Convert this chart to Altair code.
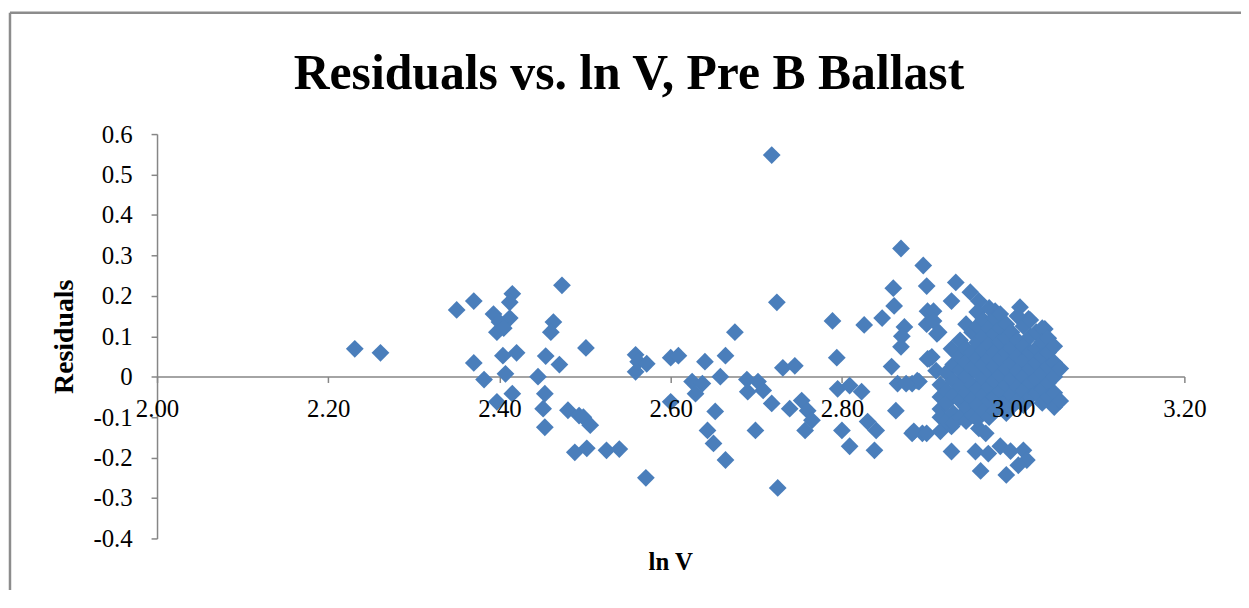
import altair as alt
import pandas as pd

# ---- data (ln V, residual) ----
pts_left = [
    (2.231, 0.069), (2.261, 0.059), (2.350, 0.165), (2.370, 0.187), (2.393, 0.155),
    (2.415, 0.205), (2.412, 0.184), (2.412, 0.145), (2.400, 0.135), (2.397, 0.110),
    (2.405, 0.120), (2.473, 0.226), (2.463, 0.135), (2.460, 0.110), (2.370, 0.034),
    (2.404, 0.052), (2.420, 0.059), (2.454, 0.051), (2.470, 0.030), (2.501, 0.071),
    (2.382, -0.007), (2.407, 0.007), (2.445, 0.000), (2.397, -0.062), (2.415, -0.042),
    (2.453, -0.042), (2.451, -0.079), (2.453, -0.125), (2.480, -0.083), (2.493, -0.096),
    (2.498, -0.100), (2.506, -0.120), (2.488, -0.187), (2.502, -0.177), (2.525, -0.182),
    (2.540, -0.179), (2.559, 0.054), (2.559, 0.012), (2.571, -0.250),
]

pts_middle = [
    (2.718, 0.548), (2.724, 0.184), (2.675, 0.110), (2.789, 0.138), (2.826, 0.128),
    (2.847, 0.145), (2.860, 0.219), (2.861, 0.175), (2.869, 0.317), (2.895, 0.275),
    (2.899, 0.224), (2.873, 0.123), (2.870, 0.100), (2.869, 0.074), (2.900, 0.162),
    (2.899, 0.130), (2.794, 0.047), (2.858, 0.025), (2.865, -0.017), (2.882, -0.017),
    (2.890, -0.012), (2.900, 0.044), (2.562, 0.037), (2.572, 0.032), (2.600, 0.047),
    (2.609, 0.052), (2.640, 0.037), (2.664, 0.052), (2.731, 0.022), (2.745, 0.027),
    (2.625, -0.012), (2.637, -0.017), (2.658, 0.000), (2.689, -0.007), (2.702, -0.012),
    (2.708, -0.034), (2.690, -0.037), (2.629, -0.042), (2.600, -0.062), (2.718, -0.066),
    (2.739, -0.079), (2.753, -0.059), (2.760, -0.084), (2.765, -0.108), (2.757, -0.133),
    (2.652, -0.086), (2.643, -0.133), (2.650, -0.165), (2.664, -0.206), (2.699, -0.133),
    (2.725, -0.275), (2.795, -0.030), (2.809, -0.022), (2.823, -0.037), (2.800, -0.133),
    (2.809, -0.172), (2.830, -0.111), (2.840, -0.133), (2.838, -0.182), (2.863, -0.084),
    (2.882, -0.140), (2.894, -0.140),
]

pts_right_edge = [
    (2.911, 0.106), (2.905, 0.049), (2.910, 0.015), (2.888, -0.010), (2.928, 0.069),
    (2.907, 0.162), (2.907, 0.138), (2.913, 0.110), (2.933, 0.233), (2.928, 0.187),
    (2.950, 0.209), (2.960, 0.187), (2.979, 0.162), (3.008, 0.172), (3.018, 0.143),
    (3.037, 0.118), (3.031, 0.110), (2.974, 0.138), (2.985, 0.118), (2.902, 0.044),
    (2.875, -0.017), (2.884, -0.135), (2.899, -0.140), (2.915, -0.135), (2.928, -0.123),
    (2.960, -0.128), (2.968, -0.140), (3.052, -0.059), (3.040, -0.037),
    (2.928, -0.185), (2.956, -0.185), (2.971, -0.190), (2.985, -0.172), (2.997, -0.184),
    (3.012, -0.182), (3.016, -0.206), (3.006, -0.219), (2.992, -0.243), (2.962, -0.233),
]

pts_cluster = [
    (2.915, -0.020), (2.915, -0.050), (2.915, -0.080), (2.915, -0.100),
    (2.922, 0.010), (2.922, -0.035), (2.922, -0.065), (2.922, -0.110),
    (2.930, 0.030), (2.930, -0.010), (2.930, -0.045), (2.930, -0.090), (2.930, -0.115),
    (2.938, 0.090), (2.938, 0.050), (2.938, 0.015), (2.938, -0.025), (2.938, -0.060), (2.938, -0.100),
    (2.945, 0.130), (2.945, 0.070), (2.945, 0.035), (2.945, 0.000), (2.945, -0.040), (2.945, -0.075), (2.945, -0.110),
    (2.952, 0.110), (2.952, 0.060), (2.952, 0.020), (2.952, -0.020), (2.952, -0.055), (2.952, -0.095),
    (2.958, 0.160), (2.958, 0.125), (2.958, 0.085), (2.958, 0.045), (2.958, 0.010), (2.958, -0.030), (2.958, -0.070), (2.958, -0.105),
    (2.965, 0.140), (2.965, 0.100), (2.965, 0.065), (2.965, 0.030), (2.965, -0.005), (2.965, -0.045), (2.965, -0.085),
    (2.972, 0.170), (2.972, 0.120), (2.972, 0.080), (2.972, 0.045), (2.972, 0.015), (2.972, -0.025), (2.972, -0.060), (2.972, -0.100),
    (2.978, 0.145), (2.978, 0.105), (2.978, 0.060), (2.978, 0.025), (2.978, -0.010), (2.978, -0.050), (2.978, -0.085),
    (2.985, 0.155), (2.985, 0.120), (2.985, 0.085), (2.985, 0.045), (2.985, 0.005), (2.985, -0.035), (2.985, -0.070),
    (2.992, 0.130), (2.992, 0.095), (2.992, 0.060), (2.992, 0.020), (2.992, -0.020), (2.992, -0.060), (2.992, -0.090),
    (2.998, 0.110), (2.998, 0.070), (2.998, 0.035), (2.998, -0.005), (2.998, -0.045), (2.998, -0.075),
    (3.005, 0.150), (3.005, 0.090), (3.005, 0.050), (3.005, 0.015), (3.005, -0.025), (3.005, -0.060),
    (3.012, 0.125), (3.012, 0.075), (3.012, 0.040), (3.012, 0.000), (3.012, -0.035), (3.012, -0.070),
    (3.020, 0.140), (3.020, 0.100), (3.020, 0.060), (3.020, 0.020), (3.020, -0.015), (3.020, -0.050),
    (3.027, 0.110), (3.027, 0.070), (3.027, 0.035), (3.027, -0.005), (3.027, -0.040),
    (3.034, 0.120), (3.034, 0.085), (3.034, 0.050), (3.034, 0.010), (3.034, -0.030), (3.034, -0.065),
    (3.041, 0.095), (3.041, 0.060), (3.041, 0.025), (3.041, -0.015), (3.041, -0.050),
    (3.048, 0.075), (3.048, 0.035), (3.048, 0.000), (3.048, -0.040), (3.048, -0.075),
    (3.055, 0.020), (3.055, -0.060),
]

x_ticks = [2.0, 2.2, 2.4, 2.6, 2.8, 3.0, 3.2]
y_ticks = [-0.4, -0.3, -0.2, -0.1, 0.0, 0.1, 0.2, 0.3, 0.4, 0.5, 0.6]
chart_title = "Residuals vs. ln V, Pre B Ballast"
x_title = "ln V"
y_title = "Residuals"

all_pts = pts_left + pts_middle + pts_right_edge + pts_cluster
df = pd.DataFrame(all_pts, columns=["lnV", "Residuals"])

W, H = 1034, 407
AXIS_GRAY = "#868686"
BLUE = "#4A7EBB"
SERIF = "Liberation Serif"

x_scale = alt.Scale(domain=[2.0, 3.2], nice=False, zero=False)
y_scale = alt.Scale(domain=[-0.4, 0.6], nice=False, zero=False)

y_axis = alt.Axis(
    values=y_ticks,
    labelExpr="abs(datum.value) < 1e-9 ? '0' : (datum.value < 0 ? '-' : '') + format(abs(datum.value), '.1f')",
    grid=False, domainColor=AXIS_GRAY, domainWidth=1.5, tickColor=AXIS_GRAY,
    tickWidth=1.5, tickSize=6, labelPadding=19, labelFont=SERIF, labelFontSize=25,
    labelColor="#000000", labelFlush=False, labelOverlap=False,
    title=y_title, titleFont=SERIF, titleFontSize=28, titleFontWeight="bold",
    titleColor="#000000", titlePadding=14,
)

one = pd.DataFrame({"k": [0]})

border_left = alt.Chart(one).mark_rule(color="#8c8c8c", strokeWidth=2.5).encode(
    x=alt.value(-148), y=alt.value(-122), y2=alt.value(H + 60)
)
border_top = alt.Chart(one).mark_rule(color="#8c8c8c", strokeWidth=2.5).encode(
    x=alt.value(-148), x2=alt.value(W + 60), y=alt.value(-122)
)

# points; x axis here draws only the zero line and ticks (behind the markers)
points = alt.Chart(df).mark_point(
    shape="diamond", filled=True, size=320, color=BLUE, opacity=1
).encode(
    x=alt.X(
        "lnV:Q", scale=x_scale,
        axis=alt.Axis(
            values=x_ticks, orient="bottom", offset=-163, title=None, grid=False,
            labels=False, domainColor=AXIS_GRAY, domainWidth=1.5, tickColor=AXIS_GRAY,
            tickWidth=1.5, tickSize=6, zindex=0,
        ),
    ),
    y=alt.Y("Residuals:Q", scale=y_scale, axis=y_axis),
)

# invisible layer whose x axis draws the tick labels above the markers
labels_layer = alt.Chart(df).mark_point(opacity=0).encode(
    x=alt.X(
        "lnV:Q", scale=x_scale,
        axis=alt.Axis(
            values=x_ticks, orient="bottom", offset=-163, format=".2f", title=None,
            grid=False, domain=False, ticks=True, tickOpacity=0, tickSize=6,
            labelPadding=14, labelFont=SERIF, labelFontSize=25, labelColor="#000000",
            labelFlush=False, labelOverlap=False, zindex=1,
        ),
    ),
    y=alt.Y("Residuals:Q", scale=y_scale, axis=y_axis),
)

title_text = alt.Chart(one).mark_text(
    text=chart_title, font=SERIF, fontSize=50, fontWeight="bold", color="#000000",
    align="center", baseline="alphabetic",
).encode(x=alt.value(475), y=alt.value(-45))

xtitle_text = alt.Chart(one).mark_text(
    text=x_title, font=SERIF, fontSize=25, fontWeight="bold", color="#000000",
    align="center", baseline="alphabetic",
).encode(x=alt.value(W / 2), y=alt.value(439))

chart = alt.layer(
    border_left, border_top, points, labels_layer, title_text, xtitle_text
).resolve_axis(x="independent", y="shared").properties(
    width=W, height=H,
    autosize=alt.AutoSizeParams(type="none"),
    padding={"left": 150, "top": 125, "right": 57, "bottom": 50},
    background="white",
).configure_view(stroke=None)

chart.save("out.html", embed_options={"renderer": "svg", "actions": False})
